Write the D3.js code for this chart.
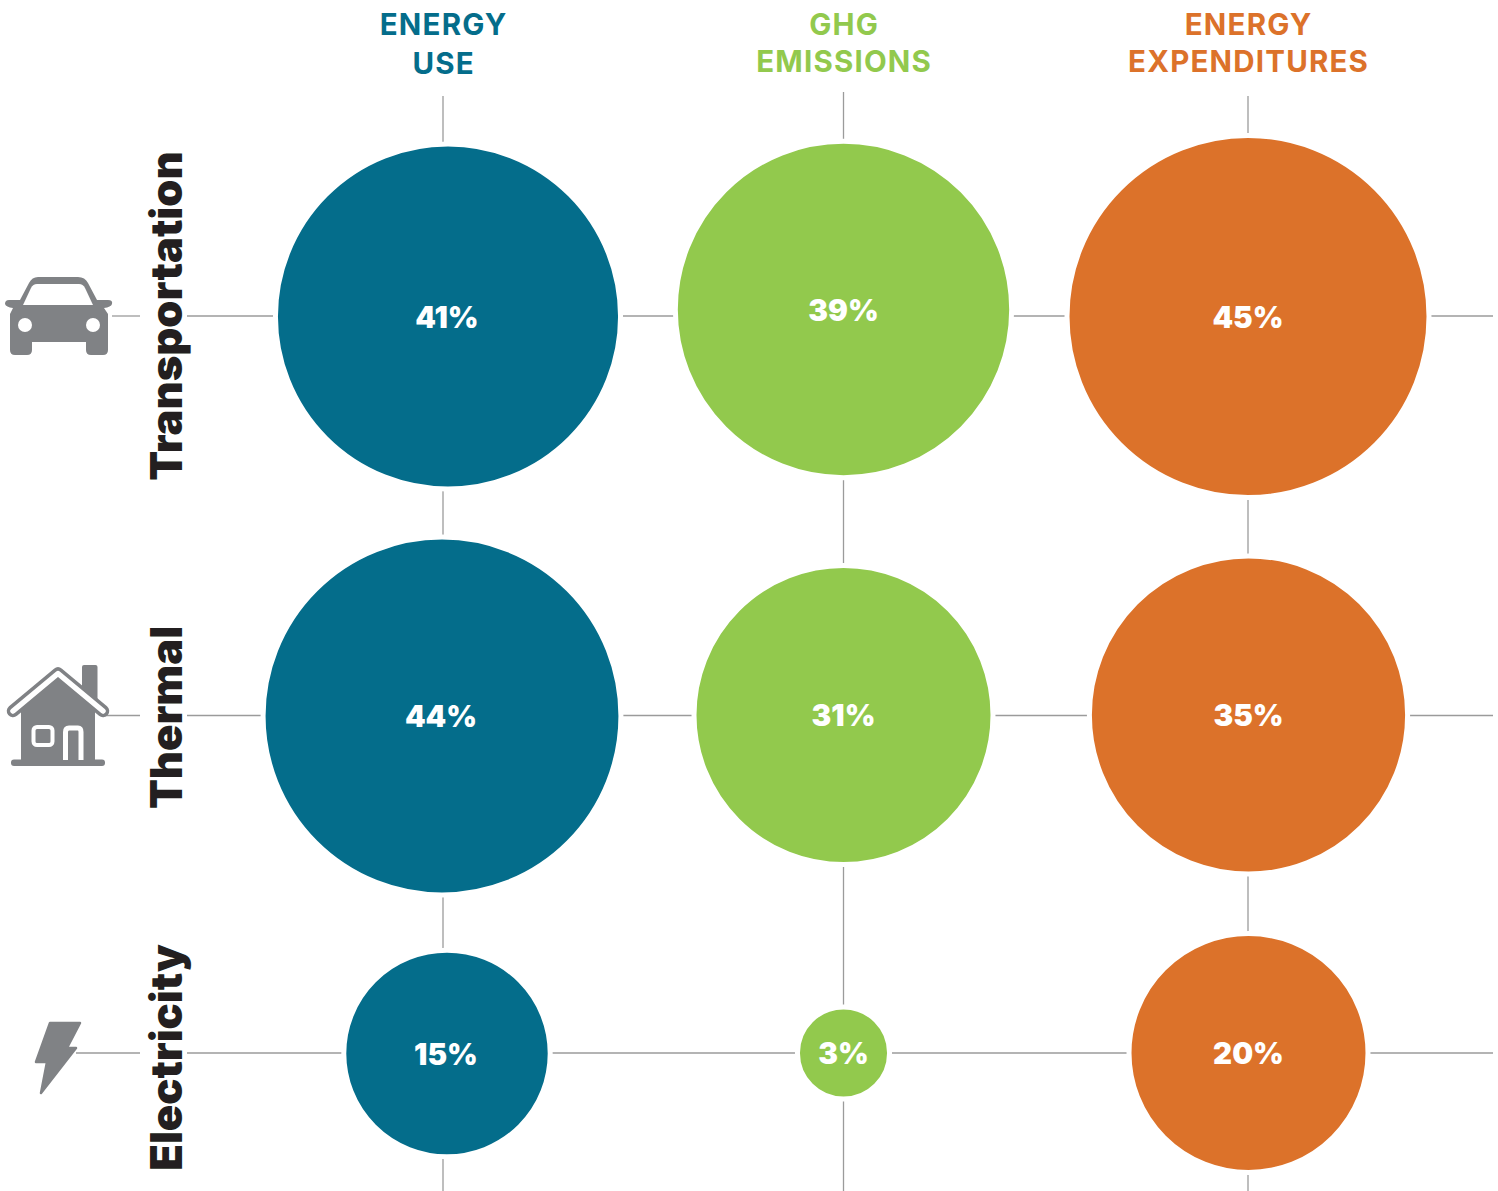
<!DOCTYPE html>
<html>
<head>
<meta charset="utf-8">
<script src="https://cdn.jsdelivr.net/npm/d3@7"></script>
<style>
  html, body { margin: 0; padding: 0; background: #fff; }
  svg { display: block; }
  text { font-family: Inter, "Noto Sans", sans-serif; }
</style>
</head>
<body>
<div id="chart"></div>
<script>
const columns = ['ENERGY USE', 'GHG EMISSIONS', 'ENERGY EXPENDITURES']
const columnLines = [['ENERGY', 'USE'], ['GHG', 'EMISSIONS'], ['ENERGY', 'EXPENDITURES']]
const sectors = ['Transportation', 'Thermal', 'Electricity']
const energyUse = [41, 44, 15]
const ghgEmissions = [39, 31, 3]
const energyExpenditures = [45, 35, 20]

const width = 1498
const height = 1191
const COLORS = ['#046d8b', '#92c94d', '#dc722a']
const ICON = '#808285'
const GRID = '#9b9b9b'
const INK = '#231f20'

// the bubbles sit slightly off the grid in the original
const nudge = [
  [[5, 0.5], [0, -6.5], [0, 0.5]],
  [[-1, 0.5], [0, -0.5], [0.5, -0.5]],
  [[4, 0.5], [0, 0], [0.5, 0]],
]
const labelDrop = [11.5, 10.5, 11]

const svg = d3.select('#chart').append('svg')
  .attr('xmlns', 'http://www.w3.org/2000/svg')
  .attr('viewBox', `0 0 ${width} ${height}`)
  .attr('width', width)
  .attr('height', height)

const x = d3.scaleOrdinal().domain(columns).range([443, 843.5, 1248])
const y = d3.scaleOrdinal().domain(sectors).range([316, 715.5, 1053])
const r = d3.scalePow().exponent(0.521).domain([0, 45]).range([0, 178.5])

const series = [energyUse, ghgEmissions, energyExpenditures]
const cells = columns.flatMap((col, c) => sectors.map((sec, s) => ({ col, sec, c, s, value: series[c][s] })))

// grid, white halo round each bubble makes the gaps
const grid = svg.append('g').attr('stroke', GRID).attr('stroke-width', 1.3)
const lineTops = [96, 92, 96]
grid.selectAll('.v').data(columns).join('line').attr('class', 'v')
  .attr('x1', (d) => x(d)).attr('x2', (d) => x(d))
  .attr('y1', (_, i) => lineTops[i]).attr('y2', height)
const stubStarts = [112, 105, 76]
grid.selectAll('.stub').data(sectors).join('line').attr('class', 'stub')
  .attr('x1', (_, i) => stubStarts[i]).attr('x2', 140)
  .attr('y1', (d) => y(d)).attr('y2', (d) => y(d))
grid.selectAll('.h').data(sectors).join('line').attr('class', 'h')
  .attr('x1', 187).attr('x2', 1493)
  .attr('y1', (d) => y(d)).attr('y2', (d) => y(d))

const bubbles = svg.append('g')
bubbles.selectAll('circle').data(cells).join('circle')
  .attr('cx', (d) => x(d.col) + nudge[d.s][d.c][0])
  .attr('cy', (d) => y(d.sec) + nudge[d.s][d.c][1])
  .attr('r', (d) => r(d.value) + 2.5)
  .attr('fill', (d) => COLORS[d.c])
  .attr('stroke', '#fff')
  .attr('stroke-width', 5)

bubbles.selectAll('text').data(cells).join('text')
  .attr('x', (d) => x(d.col) + nudge[d.s][d.c][0] - (d.c === 0 ? 1 : 0))
  .attr('y', (d) => y(d.sec) + nudge[d.s][d.c][1] + labelDrop[d.s])
  .attr('text-anchor', 'middle')
  .attr('fill', '#fff')
  .attr('font-size', 29.5)
  .attr('font-weight', 900)
  .text((d) => `${d.value}%`)

// column headers
const headerBase = [[35, 73.5], [35, 71.5], [35, 71.5]]
columnLines.forEach((lines, c) => {
  svg.append('g').selectAll('text').data(lines).join('text')
    .attr('x', x(columns[c]) + 0.6)
    .attr('y', (_, i) => headerBase[c][i])
    .attr('text-anchor', 'middle')
    .attr('fill', COLORS[c])
    .attr('font-size', 29.5)
    .attr('font-weight', 700)
    .attr('letter-spacing', 1.2)
    .text((d) => d)
})

// rotated row labels
const labelMid = [316, 717.5, 1057.5]
svg.append('g').selectAll('text').data(sectors).join('text')
  .attr('transform', (_, i) => `translate(182,${labelMid[i]}) rotate(-90)`)
  .attr('text-anchor', 'middle')
  .attr('fill', INK)
  .attr('font-size', 43.5)
  .attr('font-weight', 900)
  .text((d) => d)

// icons
const icons = svg.append('g').attr('fill', ICON)
icons.append('path').attr('d', 'M38,277 H78 Q85,277 88,283 L97,300 H108 Q113,300 112,304 Q111,307 104,308 L108,314 V342 H108 V350 Q108,355 103,355 H91 Q86,355 86,350 V342 H32 V350 Q32,355 27,355 H15 Q10,355 10,350 V314 L13,308 Q6,307 5,304 Q5,300 9,300 H20 L29,283 Q32,277 38,277 Z')
icons.append('path').attr('fill', '#fff').attr('d', 'M23,305 L31,288 Q33,284 37,284 H79 Q83,284 85,288 L93,305 Z')
icons.selectAll('.lamp').data([25, 93]).join('circle').attr('class', 'lamp')
  .attr('cx', (d) => d).attr('cy', 325).attr('r', 7).attr('fill', '#fff')

icons.append('rect').attr('x', 82).attr('y', 665).attr('width', 15.5).attr('height', 36).attr('rx', 2)
icons.append('path').attr('d', 'M58,676 L95,708 V762 H21 V708 Z')
icons.append('path').attr('fill', 'none').attr('stroke', ICON).attr('stroke-width', 12.5).attr('stroke-linecap', 'round').attr('stroke-linejoin', 'round')
  .attr('d', 'M13,711 L58,673.5 L103,711')
icons.append('path').attr('fill', 'none').attr('stroke', '#fff').attr('stroke-width', 5.5).attr('stroke-linecap', 'round').attr('stroke-linejoin', 'round')
  .attr('d', 'M13,711 L58,673.5 L103,711')
icons.append('rect').attr('x', 11).attr('y', 759.5).attr('width', 94).attr('height', 6.5).attr('rx', 3)
icons.append('rect').attr('x', 33.5).attr('y', 727).attr('width', 19).attr('height', 18).attr('rx', 3.5)
  .attr('fill', 'none').attr('stroke', '#fff').attr('stroke-width', 4)
icons.append('path').attr('fill', 'none').attr('stroke', '#fff').attr('stroke-width', 5)
  .attr('d', 'M65.5,760 V732 Q65.5,728 69,728 H78 Q81,728 81,732 V760')

icons.append('path').attr('stroke', ICON).attr('stroke-width', 2.5).attr('stroke-linejoin', 'round')
  .attr('d', 'M50,1023 H80 L67,1048 H76 L41,1093 L47,1062 H36 Z')
</script>
</body>
</html>
